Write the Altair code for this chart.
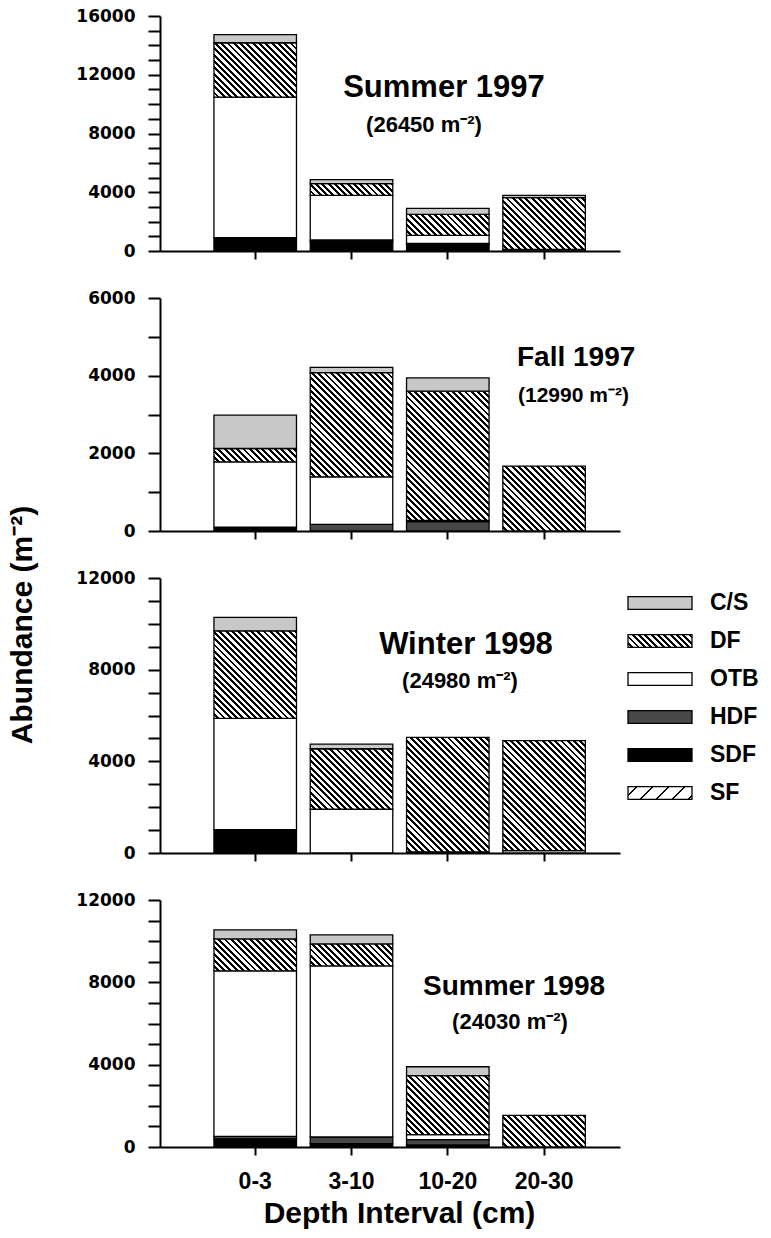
import altair as alt

# ---------------- data ----------------
DEPTHS = ["0-3", "3-10", "10-20", "20-30"]
STACK_ORDER = ["SF", "SDF", "HDF", "OTB", "DF", "C/S"]      # bottom -> top
LEGEND_ORDER = ["C/S", "DF", "OTB", "HDF", "SDF", "SF"]

# Summer 1997
SU97_SF = [0, 0, 0, 0]
SU97_SDF = [910, 640, 430, 0]
SU97_HDF = [0, 110, 90, 110]
SU97_OTB = [9570, 3040, 545, 0]
SU97_DF = [3700, 795, 1430, 3520]
SU97_CS = [550, 270, 410, 160]
# Fall 1997
FA97_SF = [0, 0, 0, 0]
FA97_SDF = [100, 0, 0, 0]
FA97_HDF = [0, 170, 240, 0]
FA97_OTB = [1680, 1226, 35, 0]
FA97_DF = [345, 2682, 3325, 1671]
FA97_CS = [857, 137, 343, 0]
# Winter 1998
WI98_SF = [0, 0, 0, 0]
WI98_SDF = [1020, 0, 0, 0]
WI98_HDF = [0, 0, 0, 0]
WI98_OTB = [4855, 1910, 50, 100]
WI98_DF = [3820, 2640, 4995, 4800]
WI98_CS = [585, 200, 0, 0]
# Summer 1998
SU98_SF = [0, 0, 0, 0]
SU98_SDF = [390, 160, 100, 0]
SU98_HDF = [130, 325, 255, 0]
SU98_OTB = [8040, 8313, 245, 0]
SU98_DF = [1550, 1067, 2865, 1536]
SU98_CS = [435, 437, 435, 0]

PANEL_NAMES = ["Summer 1997", "Fall 1997", "Winter 1998", "Summer 1998"]
PANEL_TOTALS = ["(26450 m\u207b\u00b2)", "(12990 m\u207b\u00b2)", "(24980 m\u207b\u00b2)", "(24030 m\u207b\u00b2)"]
Y_MAX = [16000, 6000, 12000, 12000]
LABEL_STEP = [4000, 2000, 4000, 4000]

SERIES = [
    {"SF": SU97_SF, "SDF": SU97_SDF, "HDF": SU97_HDF, "OTB": SU97_OTB, "DF": SU97_DF, "C/S": SU97_CS},
    {"SF": FA97_SF, "SDF": FA97_SDF, "HDF": FA97_HDF, "OTB": FA97_OTB, "DF": FA97_DF, "C/S": FA97_CS},
    {"SF": WI98_SF, "SDF": WI98_SDF, "HDF": WI98_HDF, "OTB": WI98_OTB, "DF": WI98_DF, "C/S": WI98_CS},
    {"SF": SU98_SF, "SDF": SU98_SDF, "HDF": SU98_HDF, "OTB": SU98_OTB, "DF": SU98_DF, "C/S": SU98_CS},
]

# ---------------- layout / style ----------------
PLOT_W = 460
HEIGHTS = [235, 233, 275, 247]
SPACING = 47
PAD_IN, PAD_OUT, ALIGN = 0.143, 0.46, 0.609
BAND_W = PLOT_W / (4 - PAD_IN + 2 * PAD_OUT) * (1 - PAD_IN)

BOLD = "Liberation Sans"
SOLID = {"C/S": "#c8c8c8", "OTB": "#ffffff", "HDF": "#484848", "SDF": "#000000"}


def hatch(W, H, period, width, back=True):
    """linear gradient with hard stops that looks like 45-degree hatching"""
    L = W + H
    s = (W * W + H * H) / L
    if back:   # "\" lines
        x1, y1, x2, y2 = 0, 1, W / s, 1 - H / s
    else:      # "/" lines
        x1, y1, x2, y2 = 0, 0, W / s, H / s
    stops = []
    pos = period * 0.5
    while pos < L:
        a = round(pos / L, 5)
        b = round(min((pos + width) / L, 1.0), 5)
        stops += [{"offset": a, "color": "#ffffff"}, {"offset": a, "color": "#000000"},
                  {"offset": b, "color": "#000000"}, {"offset": b, "color": "#ffffff"}]
        pos += period
    if not stops:
        stops = [{"offset": 0, "color": "#ffffff"}, {"offset": 1, "color": "#ffffff"}]
    return {"gradient": "linear", "x1": round(x1, 5), "y1": round(y1, 5),
            "x2": round(x2, 5), "y2": round(y2, 5), "stops": stops}


def fill_for(cat, W, H):
    if cat == "DF":
        return hatch(W, H, 6.3, 2.9, back=True)
    if cat == "SF":
        return hatch(W, H, 16.0, 1.8, back=False)
    return SOLID[cat]


def text_layer(txt, x, y, size, align="center", angle=0):
    return alt.Chart(alt.Data(values=[{"t": txt}])).mark_text(
        font=BOLD, fontWeight="bold", fontSize=size, align=align, baseline="middle",
        color="black", angle=angle
    ).encode(x=alt.value(x), y=alt.value(y), text="t:N")


def bar_panel(i):
    ymax, h = Y_MAX[i], HEIGHTS[i]
    recs = []
    for ci, cat in enumerate(STACK_ORDER):
        vals = SERIES[i][cat]
        for di, d in enumerate(DEPTHS):
            v = vals[di]
            if v <= 0:
                continue
            recs.append({"depth": d, "cat": cat, "ord": ci, "v": v,
                         "fill": fill_for(cat, BAND_W, v * h / ymax)})
    last = i == 3
    step = LABEL_STEP[i]
    yaxis = alt.Axis(values=list(range(0, ymax + 1, 1000)),
                     labelExpr=f"datum.value % {step} == 0 ? toString(datum.value) : ''",
                     title=None, tickSize=12, tickWidth=2, domainWidth=2,
                     tickColor="black", domainColor="black", labelColor="black",
                     labelFont="DejaVu Sans", labelFontSize=17, labelFontWeight="bold",
                     labelPadding=13, labelOverlap=False, grid=False)
    if last:
        xaxis = alt.Axis(title="Depth Interval (cm)", labelAngle=0, tickSize=8, tickWidth=2,
                         domainWidth=2, tickColor="black", domainColor="black",
                         labelColor="black", labelFont=BOLD, labelFontSize=23,
                         labelFontWeight="bold", labelPadding=15,
                         titleFont=BOLD, titleFontSize=30, titleFontWeight="bold",
                         titleColor="black", titlePadding=5, titleX=239)
    else:
        xaxis = alt.Axis(title=None, labels=False, tickSize=8, tickWidth=2, domainWidth=2,
                         tickColor="black", domainColor="black")
    return alt.Chart(alt.Data(values=recs)).mark_bar(stroke="black", strokeWidth=1.3).encode(
        x=alt.X("depth:N", sort=DEPTHS,
                scale=alt.Scale(paddingInner=PAD_IN, paddingOuter=PAD_OUT, align=ALIGN),
                axis=xaxis),
        y=alt.Y("v:Q", stack="zero", scale=alt.Scale(domain=[0, ymax], nice=False), axis=yaxis),
        order=alt.Order("ord:Q", sort="ascending"),
        fill=alt.Fill("fill:N", scale=None),
    )


# panel 1
p1 = alt.layer(
    bar_panel(0),
    text_layer(PANEL_NAMES[0], 284, 72, 31),
    text_layer(PANEL_TOTALS[0], 264, 109, 22),
).properties(width=PLOT_W, height=HEIGHTS[0])

# panel 2
p2 = alt.layer(
    bar_panel(1),
    text_layer(PANEL_NAMES[1], 357, 60, 28, align="left"),
    text_layer(PANEL_TOTALS[1], 358, 98, 21, align="left"),
).properties(width=PLOT_W, height=HEIGHTS[1])

# panel 3 with legend and shared y title
leg_recs = [{"cat": c, "fill": fill_for(c, 64, 12.8)} for c in LEGEND_ORDER]
leg_y = alt.Y("cat:N", sort=LEGEND_ORDER,
              scale=alt.Scale(type="point", range=[25, 215], padding=0), axis=None)
leg_sym = alt.Chart(alt.Data(values=leg_recs)).mark_point(
    shape="M-1,-0.2H1V0.2H-1Z", size=4096, filled=True, stroke="black",
    strokeWidth=1.3, opacity=1, fillOpacity=1, strokeOpacity=1
).encode(x=alt.value(500), y=leg_y, fill=alt.Fill("fill:N", scale=None))
leg_txt = alt.Chart(alt.Data(values=leg_recs)).mark_text(
    font=BOLD, fontWeight="bold", fontSize=23, align="left", baseline="middle", color="black"
).encode(x=alt.value(550), y=leg_y, text="cat:N")

p3 = alt.layer(
    bar_panel(2),
    text_layer(PANEL_NAMES[2], 306, 67, 31),
    text_layer(PANEL_TOTALS[2], 300, 103, 22),
    text_layer("Abundance (m\u207b\u00b2)", -137, 47, 30, angle=270),
    leg_sym,
    leg_txt,
).resolve_scale(y="independent").properties(width=PLOT_W, height=HEIGHTS[2])

# panel 4
p4 = alt.layer(
    bar_panel(3),
    text_layer(PANEL_NAMES[3], 354, 87, 28),
    text_layer(PANEL_TOTALS[3], 350, 122, 22),
).properties(width=PLOT_W, height=HEIGHTS[3])

chart = alt.vconcat(p1, p2, p3, p4, spacing=SPACING, bounds="flush").properties(
    autosize=alt.AutoSizeParams(type="none"),
    padding={"left": 160, "top": 16, "right": 771 - 160 - PLOT_W, "bottom": 1238 - 16},
).configure_view(stroke=None).configure_axis(grid=False)

chart.save("out.html", embed_options={"renderer": "svg", "actions": False})
